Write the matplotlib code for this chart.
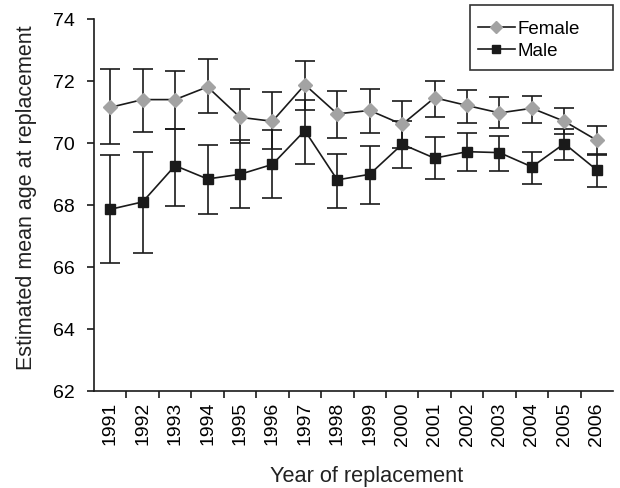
import matplotlib
matplotlib.use("Agg")
import matplotlib.pyplot as plt
from matplotlib.patches import Rectangle
import numpy as np

plt.rcParams['font.family'] = ['Liberation Sans', 'DejaVu Sans']

years = [str(y) for y in range(1991, 2007)]
female = [71.15, 71.40, 71.40, 71.81, 70.83, 70.70, 71.88, 70.94, 71.05, 70.60, 71.46, 71.21, 70.97, 71.12, 70.70, 70.09]
female_lo = [69.98, 70.36, 70.46, 70.97, 69.99, 69.81, 71.07, 70.15, 70.32, 69.84, 70.84, 70.66, 70.50, 70.66, 70.30, 69.62]
female_hi = [72.38, 72.38, 72.33, 72.70, 71.73, 71.63, 72.66, 71.68, 71.73, 71.36, 72.00, 71.72, 71.48, 71.53, 71.13, 70.56]
male = [67.86, 68.10, 69.27, 68.84, 68.99, 69.31, 70.40, 68.81, 68.99, 69.96, 69.51, 69.72, 69.69, 69.23, 69.98, 69.13]
male_lo = [66.14, 66.44, 67.98, 67.71, 67.89, 68.21, 69.33, 67.89, 68.04, 69.20, 68.83, 69.10, 69.10, 68.69, 69.44, 68.59]
male_hi = [69.62, 69.71, 70.46, 69.94, 70.10, 70.41, 71.40, 69.66, 69.90, 70.72, 70.18, 70.32, 70.22, 69.71, 70.45, 69.66]

W, H = 620, 488
fig = plt.figure(figsize=(W/100, H/100), dpi=100)
ax = fig.add_axes([94/W, 1-391/H, (613-94)/W, (391-19)/H])

x = np.arange(len(years))
f = np.array(female); m = np.array(male)
ecol = '#1a1a1a'
ax.errorbar(x, f, yerr=[f-np.array(female_lo), np.array(female_hi)-f], fmt='none',
            ecolor=ecol, elinewidth=1.2, capsize=7, capthick=1.2, zorder=2)
ax.errorbar(x, m, yerr=[m-np.array(male_lo), np.array(male_hi)-m], fmt='none',
            ecolor=ecol, elinewidth=1.2, capsize=7, capthick=1.2, zorder=2)
lf, = ax.plot(x, f, color='#1a1a1a', lw=1.2, marker='D', markersize=7.5,
              markerfacecolor='#a3a3a3', markeredgecolor='#a3a3a3', zorder=3, label='Female')
lm, = ax.plot(x, m, color='#1a1a1a', lw=1.2, marker='s', markersize=7.5,
              markerfacecolor='#1a1a1a', markeredgecolor='#1a1a1a', zorder=3, label='Male')

ax.set_xlim(-0.5, len(years)-0.5)
ax.set_ylim(62, 74)
ax.set_yticks([62, 64, 66, 68, 70, 72, 74])
ax.set_xticks(x)
ax.set_xticklabels(years, rotation=90, fontsize=14)
ax.set_xticks(np.arange(0.5, len(years)-1, 1.0), minor=True)
ax.tick_params(axis='x', which='major', length=0, pad=8)
ax.tick_params(axis='x', which='minor', length=5, width=1.2, direction='out', color=ecol)
ax.tick_params(axis='y', labelsize=14, length=5, width=1.2, color=ecol, pad=9)
for s in ['top', 'right']:
    ax.spines[s].set_visible(False)
for s in ['left', 'bottom']:
    ax.spines[s].set_linewidth(1.2)
    ax.spines[s].set_color(ecol)

ax.set_ylabel('Estimated mean age at replacement', fontsize=15.5, color='#222222')
ax.set_xlabel('Year of replacement', fontsize=15.7, color='#222222')
ax.yaxis.set_label_coords((37-94)/(613-94), (391-198)/(391-19))
ax.xaxis.set_label_coords((367-94)/(613-94), (391-466)/(391-19))

fig.patches.append(Rectangle((470/W, 1-70/H), (613-470)/W, (70-5)/H, transform=fig.transFigure,
                             fill=False, edgecolor='#333333', linewidth=1.2))
leg = fig.legend(handles=[lf, lm], loc='upper left', bbox_to_anchor=(472/W, 1-15/H),
                 fontsize=13.5, frameon=False, handlelength=2.0, markerscale=0.75,
                 handletextpad=0.15, borderpad=0.3, labelspacing=0.25, borderaxespad=0)

fig.savefig('out.png', dpi=100)
